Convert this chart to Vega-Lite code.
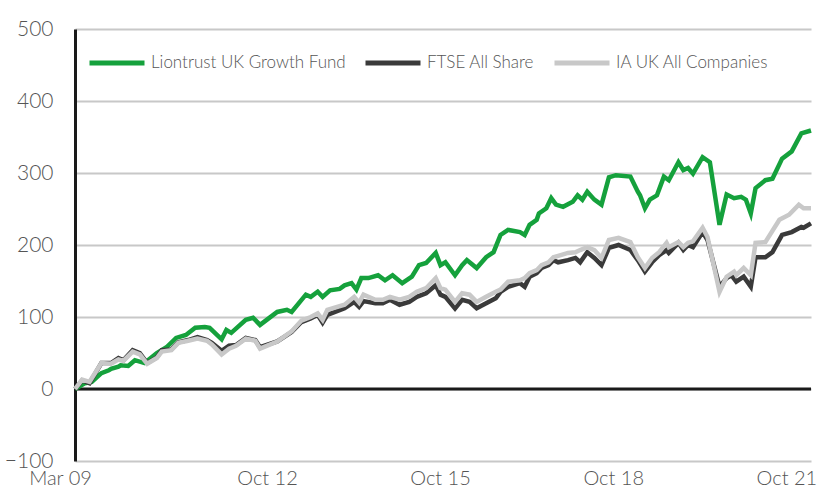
{
  "$schema": "https://vega.github.io/schema/vega-lite/v6.json",
  "width": 736,
  "height": 432,
  "autosize": "none",
  "padding": {"left": 75, "top": 29, "right": 8, "bottom": 26},
  "background": "white",
  "config": {
    "view": {"stroke": null},
    "font": "Lato",
    "axis": {"labelFont": "Lato", "labelFontWeight": 300, "labelColor": "#555555", "labelFontSize": 21, "title": null}
  },
  "data": {
    "values": [
      {"d":"2009-03-01","s":"Liontrust UK Growth Fund","v":0},
      {"d":"2009-05-01","s":"Liontrust UK Growth Fund","v":8},
      {"d":"2009-06-15","s":"Liontrust UK Growth Fund","v":10},
      {"d":"2009-08-15","s":"Liontrust UK Growth Fund","v":22},
      {"d":"2009-10-01","s":"Liontrust UK Growth Fund","v":26},
      {"d":"2009-10-15","s":"Liontrust UK Growth Fund","v":28},
      {"d":"2009-12-01","s":"Liontrust UK Growth Fund","v":31},
      {"d":"2009-12-15","s":"Liontrust UK Growth Fund","v":33},
      {"d":"2010-02-01","s":"Liontrust UK Growth Fund","v":32},
      {"d":"2010-03-15","s":"Liontrust UK Growth Fund","v":40},
      {"d":"2010-05-15","s":"Liontrust UK Growth Fund","v":36},
      {"d":"2010-08-01","s":"Liontrust UK Growth Fund","v":50},
      {"d":"2010-10-01","s":"Liontrust UK Growth Fund","v":58},
      {"d":"2010-12-01","s":"Liontrust UK Growth Fund","v":71},
      {"d":"2011-02-01","s":"Liontrust UK Growth Fund","v":75},
      {"d":"2011-04-01","s":"Liontrust UK Growth Fund","v":85},
      {"d":"2011-06-01","s":"Liontrust UK Growth Fund","v":86},
      {"d":"2011-07-01","s":"Liontrust UK Growth Fund","v":85},
      {"d":"2011-09-15","s":"Liontrust UK Growth Fund","v":69},
      {"d":"2011-10-15","s":"Liontrust UK Growth Fund","v":82},
      {"d":"2011-11-15","s":"Liontrust UK Growth Fund","v":78},
      {"d":"2012-02-15","s":"Liontrust UK Growth Fund","v":96},
      {"d":"2012-04-01","s":"Liontrust UK Growth Fund","v":99},
      {"d":"2012-05-15","s":"Liontrust UK Growth Fund","v":89},
      {"d":"2012-09-01","s":"Liontrust UK Growth Fund","v":107},
      {"d":"2012-11-01","s":"Liontrust UK Growth Fund","v":110},
      {"d":"2012-12-01","s":"Liontrust UK Growth Fund","v":107},
      {"d":"2013-03-01","s":"Liontrust UK Growth Fund","v":131},
      {"d":"2013-04-01","s":"Liontrust UK Growth Fund","v":128},
      {"d":"2013-05-15","s":"Liontrust UK Growth Fund","v":135},
      {"d":"2013-06-15","s":"Liontrust UK Growth Fund","v":128},
      {"d":"2013-08-01","s":"Liontrust UK Growth Fund","v":137},
      {"d":"2013-10-01","s":"Liontrust UK Growth Fund","v":139},
      {"d":"2013-11-01","s":"Liontrust UK Growth Fund","v":144},
      {"d":"2013-12-15","s":"Liontrust UK Growth Fund","v":147},
      {"d":"2014-01-15","s":"Liontrust UK Growth Fund","v":138},
      {"d":"2014-02-15","s":"Liontrust UK Growth Fund","v":154},
      {"d":"2014-04-01","s":"Liontrust UK Growth Fund","v":154},
      {"d":"2014-06-01","s":"Liontrust UK Growth Fund","v":158},
      {"d":"2014-07-15","s":"Liontrust UK Growth Fund","v":151},
      {"d":"2014-09-01","s":"Liontrust UK Growth Fund","v":158},
      {"d":"2014-11-01","s":"Liontrust UK Growth Fund","v":147},
      {"d":"2015-01-01","s":"Liontrust UK Growth Fund","v":156},
      {"d":"2015-02-15","s":"Liontrust UK Growth Fund","v":172},
      {"d":"2015-04-01","s":"Liontrust UK Growth Fund","v":175},
      {"d":"2015-06-01","s":"Liontrust UK Growth Fund","v":189},
      {"d":"2015-07-01","s":"Liontrust UK Growth Fund","v":172},
      {"d":"2015-08-01","s":"Liontrust UK Growth Fund","v":176},
      {"d":"2015-10-01","s":"Liontrust UK Growth Fund","v":158},
      {"d":"2015-11-15","s":"Liontrust UK Growth Fund","v":172},
      {"d":"2015-12-15","s":"Liontrust UK Growth Fund","v":179},
      {"d":"2016-02-15","s":"Liontrust UK Growth Fund","v":168},
      {"d":"2016-04-15","s":"Liontrust UK Growth Fund","v":183},
      {"d":"2016-06-01","s":"Liontrust UK Growth Fund","v":190},
      {"d":"2016-07-15","s":"Liontrust UK Growth Fund","v":214},
      {"d":"2016-09-01","s":"Liontrust UK Growth Fund","v":221},
      {"d":"2016-11-15","s":"Liontrust UK Growth Fund","v":218},
      {"d":"2016-12-15","s":"Liontrust UK Growth Fund","v":214},
      {"d":"2017-01-15","s":"Liontrust UK Growth Fund","v":228},
      {"d":"2017-03-01","s":"Liontrust UK Growth Fund","v":235},
      {"d":"2017-03-15","s":"Liontrust UK Growth Fund","v":244},
      {"d":"2017-05-01","s":"Liontrust UK Growth Fund","v":251},
      {"d":"2017-06-01","s":"Liontrust UK Growth Fund","v":265},
      {"d":"2017-07-01","s":"Liontrust UK Growth Fund","v":256},
      {"d":"2017-08-15","s":"Liontrust UK Growth Fund","v":253},
      {"d":"2017-10-15","s":"Liontrust UK Growth Fund","v":260},
      {"d":"2017-11-15","s":"Liontrust UK Growth Fund","v":269},
      {"d":"2017-12-15","s":"Liontrust UK Growth Fund","v":263},
      {"d":"2018-01-15","s":"Liontrust UK Growth Fund","v":274},
      {"d":"2018-03-01","s":"Liontrust UK Growth Fund","v":263},
      {"d":"2018-04-15","s":"Liontrust UK Growth Fund","v":256},
      {"d":"2018-06-01","s":"Liontrust UK Growth Fund","v":294},
      {"d":"2018-07-15","s":"Liontrust UK Growth Fund","v":297},
      {"d":"2018-10-15","s":"Liontrust UK Growth Fund","v":295},
      {"d":"2018-12-01","s":"Liontrust UK Growth Fund","v":274},
      {"d":"2018-12-15","s":"Liontrust UK Growth Fund","v":269},
      {"d":"2019-01-15","s":"Liontrust UK Growth Fund","v":251},
      {"d":"2019-02-15","s":"Liontrust UK Growth Fund","v":263},
      {"d":"2019-04-01","s":"Liontrust UK Growth Fund","v":269},
      {"d":"2019-05-15","s":"Liontrust UK Growth Fund","v":295},
      {"d":"2019-06-15","s":"Liontrust UK Growth Fund","v":290},
      {"d":"2019-08-15","s":"Liontrust UK Growth Fund","v":315},
      {"d":"2019-09-15","s":"Liontrust UK Growth Fund","v":304},
      {"d":"2019-10-15","s":"Liontrust UK Growth Fund","v":307},
      {"d":"2019-11-15","s":"Liontrust UK Growth Fund","v":299},
      {"d":"2020-01-15","s":"Liontrust UK Growth Fund","v":322},
      {"d":"2020-03-01","s":"Liontrust UK Growth Fund","v":315},
      {"d":"2020-05-01","s":"Liontrust UK Growth Fund","v":228},
      {"d":"2020-06-15","s":"Liontrust UK Growth Fund","v":270},
      {"d":"2020-08-01","s":"Liontrust UK Growth Fund","v":265},
      {"d":"2020-09-15","s":"Liontrust UK Growth Fund","v":267},
      {"d":"2020-10-15","s":"Liontrust UK Growth Fund","v":263},
      {"d":"2020-11-15","s":"Liontrust UK Growth Fund","v":244},
      {"d":"2020-12-15","s":"Liontrust UK Growth Fund","v":279},
      {"d":"2021-02-15","s":"Liontrust UK Growth Fund","v":290},
      {"d":"2021-04-01","s":"Liontrust UK Growth Fund","v":292},
      {"d":"2021-06-01","s":"Liontrust UK Growth Fund","v":320},
      {"d":"2021-08-01","s":"Liontrust UK Growth Fund","v":330},
      {"d":"2021-10-01","s":"Liontrust UK Growth Fund","v":355},
      {"d":"2021-12-01","s":"Liontrust UK Growth Fund","v":359},

      {"d":"2009-03-01","s":"FTSE All Share","v":0},{"d":"2009-04-15","s":"FTSE All Share","v":12},{"d":"2009-06-01","s":"FTSE All Share","v":8},{"d":"2009-08-15","s":"FTSE All Share","v":36},{"d":"2009-10-15","s":"FTSE All Share","v":36},{"d":"2009-12-01","s":"FTSE All Share","v":43},{"d":"2010-01-01","s":"FTSE All Share","v":40},{"d":"2010-03-01","s":"FTSE All Share","v":54},{"d":"2010-04-15","s":"FTSE All Share","v":50},{"d":"2010-06-01","s":"FTSE All Share","v":36},{"d":"2010-08-01","s":"FTSE All Share","v":44},{"d":"2010-09-01","s":"FTSE All Share","v":54},{"d":"2010-11-01","s":"FTSE All Share","v":55},{"d":"2010-12-15","s":"FTSE All Share","v":65},{"d":"2011-02-15","s":"FTSE All Share","v":68},{"d":"2011-04-15","s":"FTSE All Share","v":72},{"d":"2011-06-15","s":"FTSE All Share","v":68},{"d":"2011-07-15","s":"FTSE All Share","v":64},{"d":"2011-09-15","s":"FTSE All Share","v":53},{"d":"2011-11-01","s":"FTSE All Share","v":60},{"d":"2011-12-15","s":"FTSE All Share","v":61},{"d":"2012-02-15","s":"FTSE All Share","v":71},{"d":"2012-04-15","s":"FTSE All Share","v":68},{"d":"2012-05-15","s":"FTSE All Share","v":58},{"d":"2012-09-01","s":"FTSE All Share","v":66},{"d":"2012-12-01","s":"FTSE All Share","v":79},{"d":"2013-02-01","s":"FTSE All Share","v":93},{"d":"2013-04-01","s":"FTSE All Share","v":98},{"d":"2013-05-15","s":"FTSE All Share","v":103},{"d":"2013-06-15","s":"FTSE All Share","v":92},{"d":"2013-07-15","s":"FTSE All Share","v":103},{"d":"2013-11-01","s":"FTSE All Share","v":112},{"d":"2014-01-01","s":"FTSE All Share","v":121},{"d":"2014-02-01","s":"FTSE All Share","v":114},{"d":"2014-03-01","s":"FTSE All Share","v":122},{"d":"2014-05-15","s":"FTSE All Share","v":119},{"d":"2014-07-01","s":"FTSE All Share","v":119},{"d":"2014-08-15","s":"FTSE All Share","v":124},{"d":"2014-10-15","s":"FTSE All Share","v":117},{"d":"2014-12-15","s":"FTSE All Share","v":121},{"d":"2015-02-01","s":"FTSE All Share","v":128},{"d":"2015-04-01","s":"FTSE All Share","v":133},{"d":"2015-06-01","s":"FTSE All Share","v":144},{"d":"2015-07-01","s":"FTSE All Share","v":131},{"d":"2015-08-01","s":"FTSE All Share","v":128},{"d":"2015-10-01","s":"FTSE All Share","v":112},{"d":"2015-11-15","s":"FTSE All Share","v":124},{"d":"2016-01-01","s":"FTSE All Share","v":121},{"d":"2016-02-15","s":"FTSE All Share","v":112},{"d":"2016-04-15","s":"FTSE All Share","v":119},{"d":"2016-06-15","s":"FTSE All Share","v":126},{"d":"2016-07-15","s":"FTSE All Share","v":135},{"d":"2016-09-01","s":"FTSE All Share","v":142},{"d":"2016-11-15","s":"FTSE All Share","v":147},{"d":"2016-12-15","s":"FTSE All Share","v":142},{"d":"2017-01-15","s":"FTSE All Share","v":156},{"d":"2017-03-01","s":"FTSE All Share","v":161},{"d":"2017-04-01","s":"FTSE All Share","v":168},{"d":"2017-05-15","s":"FTSE All Share","v":172},{"d":"2017-06-15","s":"FTSE All Share","v":179},{"d":"2017-07-15","s":"FTSE All Share","v":176},{"d":"2017-09-15","s":"FTSE All Share","v":179},{"d":"2017-11-01","s":"FTSE All Share","v":182},{"d":"2017-12-01","s":"FTSE All Share","v":176},{"d":"2018-01-15","s":"FTSE All Share","v":190},{"d":"2018-03-01","s":"FTSE All Share","v":182},{"d":"2018-04-15","s":"FTSE All Share","v":172},{"d":"2018-06-01","s":"FTSE All Share","v":196},{"d":"2018-08-01","s":"FTSE All Share","v":200},{"d":"2018-10-15","s":"FTSE All Share","v":193},{"d":"2018-12-01","s":"FTSE All Share","v":179},{"d":"2019-01-15","s":"FTSE All Share","v":163},{"d":"2019-03-01","s":"FTSE All Share","v":176},{"d":"2019-04-15","s":"FTSE All Share","v":186},{"d":"2019-06-01","s":"FTSE All Share","v":193},{"d":"2019-06-15","s":"FTSE All Share","v":189},{"d":"2019-08-15","s":"FTSE All Share","v":203},{"d":"2019-09-15","s":"FTSE All Share","v":193},{"d":"2019-10-15","s":"FTSE All Share","v":200},{"d":"2019-11-15","s":"FTSE All Share","v":197},{"d":"2020-01-15","s":"FTSE All Share","v":218},{"d":"2020-02-15","s":"FTSE All Share","v":207},{"d":"2020-05-01","s":"FTSE All Share","v":142},{"d":"2020-06-15","s":"FTSE All Share","v":154},{"d":"2020-07-15","s":"FTSE All Share","v":158},{"d":"2020-08-15","s":"FTSE All Share","v":149},{"d":"2020-10-01","s":"FTSE All Share","v":156},{"d":"2020-11-15","s":"FTSE All Share","v":142},{"d":"2020-12-15","s":"FTSE All Share","v":183},{"d":"2021-02-15","s":"FTSE All Share","v":183},{"d":"2021-04-01","s":"FTSE All Share","v":190},{"d":"2021-06-01","s":"FTSE All Share","v":214},{"d":"2021-08-01","s":"FTSE All Share","v":218},{"d":"2021-10-01","s":"FTSE All Share","v":225},{"d":"2021-10-15","s":"FTSE All Share","v":224},{"d":"2021-12-01","s":"FTSE All Share","v":230},

      {"d":"2009-03-01","s":"IA UK All Companies","v":0},{"d":"2009-04-15","s":"IA UK All Companies","v":13},{"d":"2009-06-01","s":"IA UK All Companies","v":10},{"d":"2009-08-15","s":"IA UK All Companies","v":36},{"d":"2009-10-15","s":"IA UK All Companies","v":35},{"d":"2009-12-01","s":"IA UK All Companies","v":41},{"d":"2010-01-01","s":"IA UK All Companies","v":39},{"d":"2010-03-01","s":"IA UK All Companies","v":52},{"d":"2010-04-15","s":"IA UK All Companies","v":48},{"d":"2010-06-01","s":"IA UK All Companies","v":35},{"d":"2010-08-01","s":"IA UK All Companies","v":43},{"d":"2010-09-01","s":"IA UK All Companies","v":52},{"d":"2010-11-01","s":"IA UK All Companies","v":54},{"d":"2010-12-15","s":"IA UK All Companies","v":64},{"d":"2011-02-15","s":"IA UK All Companies","v":67},{"d":"2011-04-15","s":"IA UK All Companies","v":70},{"d":"2011-06-15","s":"IA UK All Companies","v":67},{"d":"2011-07-15","s":"IA UK All Companies","v":62},{"d":"2011-09-15","s":"IA UK All Companies","v":48},{"d":"2011-11-01","s":"IA UK All Companies","v":56},{"d":"2011-12-15","s":"IA UK All Companies","v":60},{"d":"2012-02-15","s":"IA UK All Companies","v":70},{"d":"2012-04-15","s":"IA UK All Companies","v":67},{"d":"2012-05-15","s":"IA UK All Companies","v":56},{"d":"2012-09-01","s":"IA UK All Companies","v":66},{"d":"2012-12-01","s":"IA UK All Companies","v":80},{"d":"2013-02-01","s":"IA UK All Companies","v":95},{"d":"2013-04-01","s":"IA UK All Companies","v":100},{"d":"2013-05-15","s":"IA UK All Companies","v":105},{"d":"2013-06-15","s":"IA UK All Companies","v":96},{"d":"2013-07-15","s":"IA UK All Companies","v":110},{"d":"2013-11-01","s":"IA UK All Companies","v":117},{"d":"2014-01-01","s":"IA UK All Companies","v":128},{"d":"2014-02-01","s":"IA UK All Companies","v":120},{"d":"2014-03-01","s":"IA UK All Companies","v":131},{"d":"2014-05-15","s":"IA UK All Companies","v":124},{"d":"2014-07-01","s":"IA UK All Companies","v":124},{"d":"2014-08-15","s":"IA UK All Companies","v":128},{"d":"2014-10-15","s":"IA UK All Companies","v":124},{"d":"2014-12-15","s":"IA UK All Companies","v":128},{"d":"2015-02-01","s":"IA UK All Companies","v":135},{"d":"2015-04-01","s":"IA UK All Companies","v":140},{"d":"2015-06-01","s":"IA UK All Companies","v":154},{"d":"2015-07-01","s":"IA UK All Companies","v":140},{"d":"2015-08-01","s":"IA UK All Companies","v":138},{"d":"2015-10-01","s":"IA UK All Companies","v":121},{"d":"2015-11-15","s":"IA UK All Companies","v":133},{"d":"2016-01-01","s":"IA UK All Companies","v":131},{"d":"2016-02-15","s":"IA UK All Companies","v":121},{"d":"2016-04-15","s":"IA UK All Companies","v":128},{"d":"2016-06-15","s":"IA UK All Companies","v":135},{"d":"2016-07-15","s":"IA UK All Companies","v":138},{"d":"2016-09-01","s":"IA UK All Companies","v":149},{"d":"2016-11-15","s":"IA UK All Companies","v":151},{"d":"2016-12-15","s":"IA UK All Companies","v":154},{"d":"2017-01-15","s":"IA UK All Companies","v":161},{"d":"2017-03-01","s":"IA UK All Companies","v":165},{"d":"2017-04-01","s":"IA UK All Companies","v":172},{"d":"2017-05-15","s":"IA UK All Companies","v":176},{"d":"2017-06-15","s":"IA UK All Companies","v":183},{"d":"2017-07-15","s":"IA UK All Companies","v":185},{"d":"2017-09-15","s":"IA UK All Companies","v":189},{"d":"2017-11-01","s":"IA UK All Companies","v":190},{"d":"2017-12-01","s":"IA UK All Companies","v":193},{"d":"2018-01-15","s":"IA UK All Companies","v":197},{"d":"2018-03-01","s":"IA UK All Companies","v":193},{"d":"2018-04-15","s":"IA UK All Companies","v":182},{"d":"2018-06-01","s":"IA UK All Companies","v":207},{"d":"2018-08-01","s":"IA UK All Companies","v":210},{"d":"2018-10-15","s":"IA UK All Companies","v":204},{"d":"2018-12-01","s":"IA UK All Companies","v":183},{"d":"2019-01-15","s":"IA UK All Companies","v":168},{"d":"2019-03-01","s":"IA UK All Companies","v":182},{"d":"2019-04-15","s":"IA UK All Companies","v":190},{"d":"2019-06-01","s":"IA UK All Companies","v":203},{"d":"2019-06-15","s":"IA UK All Companies","v":197},{"d":"2019-08-15","s":"IA UK All Companies","v":204},{"d":"2019-09-15","s":"IA UK All Companies","v":197},{"d":"2019-10-15","s":"IA UK All Companies","v":203},{"d":"2019-11-15","s":"IA UK All Companies","v":205},{"d":"2020-01-15","s":"IA UK All Companies","v":224},{"d":"2020-02-15","s":"IA UK All Companies","v":211},{"d":"2020-05-01","s":"IA UK All Companies","v":135},{"d":"2020-06-15","s":"IA UK All Companies","v":156},{"d":"2020-08-01","s":"IA UK All Companies","v":163},{"d":"2020-08-15","s":"IA UK All Companies","v":158},{"d":"2020-10-01","s":"IA UK All Companies","v":168},{"d":"2020-11-15","s":"IA UK All Companies","v":158},{"d":"2020-12-15","s":"IA UK All Companies","v":203},{"d":"2021-02-15","s":"IA UK All Companies","v":204},{"d":"2021-05-15","s":"IA UK All Companies","v":235},{"d":"2021-07-15","s":"IA UK All Companies","v":242},{"d":"2021-09-15","s":"IA UK All Companies","v":256},{"d":"2021-10-15","s":"IA UK All Companies","v":251},{"d":"2021-12-01","s":"IA UK All Companies","v":251}
    ]
  },
  "layer": [
    {
      "data": {"values": [{"z": 0}]},
      "mark": {"type": "rule", "color": "#1a1a1a", "strokeWidth": 3},
      "encoding": {"y": {"field": "z", "type": "quantitative", "scale": {"domain": [-100, 500]}}}
    },
    {
      "mark": {"type": "line", "strokeWidth": 4.5},
      "encoding": {
        "x": {
          "field": "d", "type": "temporal",
          "scale": {"domain": [{"year": 2009, "month": 3, "date": 1}, {"year": 2021, "month": 12, "date": 1}]},
          "axis": {
            "values": [{"year": 2009, "month": 3, "date": 1}, {"year": 2012, "month": 10, "date": 1}, {"year": 2015, "month": 10, "date": 1}, {"year": 2018, "month": 10, "date": 1}, {"year": 2021, "month": 10, "date": 1}],
            "format": "%b %y", "grid": false, "domain": false, "ticks": false,
            "labelPadding": 7, "labelOffset": -15, "labelFlush": false, "labelOverlap": false, "labelFontSize": 20
          }
        },
        "y": {
          "field": "v", "type": "quantitative",
          "scale": {"domain": [-100, 500], "nice": false, "zero": false},
          "axis": {
            "values": [-100, 0, 100, 200, 300, 400, 500],
            "grid": true, "gridColor": "#c8c8c8", "gridWidth": 2,
            "domain": true, "domainColor": "#1a1a1a", "domainWidth": 3,
            "ticks": false, "labelPadding": 22
          }
        },
        "color": {
          "field": "s", "type": "nominal",
          "sort": ["Liontrust UK Growth Fund", "FTSE All Share", "IA UK All Companies"],
          "scale": {"domain": ["Liontrust UK Growth Fund", "FTSE All Share", "IA UK All Companies"], "range": ["#15a13c", "#3a3a3a", "#c8c8c8"]},
          "legend": {
            "title": null, "orient": "none", "legendX": 12, "legendY": 4, "direction": "horizontal",
            "symbolType": "stroke", "symbolSize": 3025, "symbolStrokeWidth": 5,
            "labelFont": "Lato", "labelFontWeight": 300, "labelFontSize": 17, "labelColor": "#555555",
            "labelOffset": 4, "columnPadding": 9, "labelLimit": 400
          }
        }
      }
    }
  ]
}
